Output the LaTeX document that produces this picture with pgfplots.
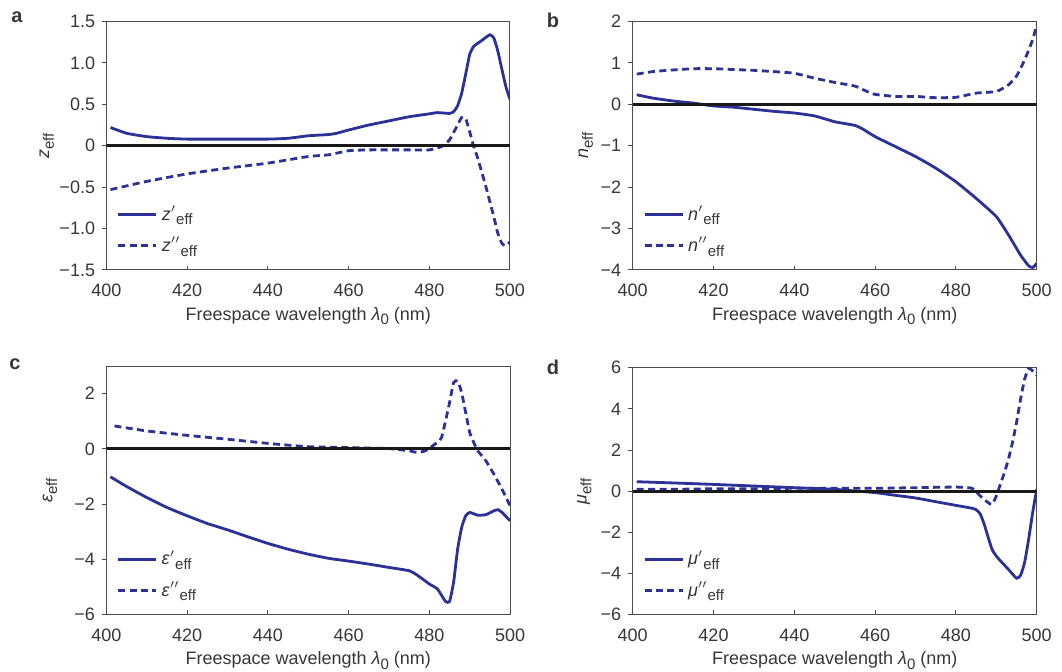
\documentclass[border=0pt]{standalone}
\usepackage{pgfplots}
\pgfplotsset{compat=1.18}
\usepackage{fontspec}
\setmainfont{Liberation Sans}
\definecolor{navy}{RGB}{43,49,150}
\definecolor{txt}{RGB}{55,55,55}
\newcommand{\sub}[1]{\raisebox{-0.5ex}{\fontsize{7.5}{8}\selectfont #1}}
\pgfplotsset{
  panel/.style={
    scale only axis,
    anchor=south west,
    xmin=400, xmax=500,
    xtick={400,420,440,460,480,500},
    xticklabels={400,420,440,460,480,500},
    axis line style={black!70, line width=0.5pt},
    tick style={black!70, line width=0.5pt},
    major tick length=2.2pt,
    xtick pos=bottom, ytick pos=left,
    xtick align=inside, ytick align=outside,
    tick label style={font=\fontsize{9}{10}\selectfont, text=txt},
    xticklabel style={yshift=-3.5pt},
    label style={font=\fontsize{9}{10}\selectfont, text=txt},
    xlabel={Freespace wavelength \textit{λ}\sub{0} (nm)},
    xlabel style={at={(axis description cs:0.5,-0.185)}, anchor=center},
    legend style={draw=none, fill=none, font=\fontsize{9}{10}\selectfont, text=txt,
      row sep=3pt, anchor=south west, at={(axis description cs:0.025,0.045)},
      inner sep=0pt, cells={anchor=west}},
    legend image code/.code={\draw[##1] (0pt,0pt) -- (19pt,0pt);},
    solidl/.style={navy, line width=1.4pt, smooth, tension=0.3},
    dashl/.style={navy, line width=1.4pt, dash pattern=on 3.5pt off 2.2pt, smooth, tension=0.3},
    zerol/.style={black!90, line width=1.5pt, forget plot},
  }
}
\begin{document}
\begin{tikzpicture}
\path[use as bounding box] (0,0) rectangle (531pt,336pt);
% ---------- a ----------
\begin{axis}[panel, at={(53.25pt,201pt)}, width=201.75pt, height=124.25pt,
  ymin=-1.5, ymax=1.5,
  ytick={-1.5,-1,-0.5,0,0.5,1,1.5},
  yticklabels={−1.5,−1.0,−0.5,0,0.5,1.0,1.5},
  ylabel={\textit{z}\sub{eff}},
  ylabel style={at={(axis description cs:-0.148,0.5)}, anchor=center}]
\addplot[solidl] coordinates {
(401,0.22) (405,0.15) (410,0.11) (415,0.09) (420,0.08) (430,0.08) (440,0.08)
(445,0.09) (450,0.12) (455,0.135) (457,0.15) (460,0.19) (465,0.25) (470,0.30)
(475,0.35) (480,0.385) (482,0.40) (485,0.39) (486,0.41) (487,0.48) (488,0.63)
(489,0.86) (490,1.10) (491,1.20) (493,1.27) (495,1.34) (496,1.30) (497,1.14)
(498,0.92) (499,0.71) (500,0.56)};
\addlegendentry{\textit{z}$'$\sub{eff}}
\addplot[dashl] coordinates {
(401,-0.53) (410,-0.43) (420,-0.34) (430,-0.27) (440,-0.21) (450,-0.13) (455,-0.11)
(460,-0.06) (465,-0.05) (470,-0.05) (475,-0.05) (480,-0.05) (483,-0.01) (485,0.07)
(487,0.25) (488,0.34) (489,0.33) (490,0.17) (491,-0.01) (492,-0.15) (494,-0.49)
(496,-0.86) (497,-1.06) (498,-1.18) (499,-1.21) (500,-1.16)};
\addlegendentry{\textit{z}$''$\sub{eff}}
\addplot[zerol] coordinates {(400,0) (500,0)};
\end{axis}
\node[font=\bfseries\fontsize{10}{11}\selectfont, text=txt] at (8.5pt,327.5pt) {a};
% ---------- b ----------
\begin{axis}[panel, at={(316.35pt,201pt)}, width=202pt, height=124.25pt,
  ymin=-4, ymax=2,
  ytick={-4,-3,-2,-1,0,1,2},
  yticklabels={−4,−3,−2,−1,0,1,2},
  ylabel={\textit{n}\sub{eff}},
  ylabel style={at={(axis description cs:-0.116,0.5)}, anchor=center}]
\addplot[solidl] coordinates {
(401,0.23) (405,0.15) (410,0.08) (415,0.03) (420,-0.04) (425,-0.07) (430,-0.12)
(435,-0.17) (440,-0.21) (445,-0.28) (450,-0.42) (455,-0.51) (457,-0.60) (460,-0.78)
(465,-1.02) (470,-1.26) (475,-1.54) (480,-1.87) (485,-2.27) (490,-2.71) (493,-3.15)
(496,-3.64) (498,-3.90) (499,-3.94) (500,-3.84)};
\addlegendentry{\textit{n}$'$\sub{eff}}
\addplot[dashl] coordinates {
(401,0.73) (405,0.79) (410,0.83) (415,0.86) (420,0.86) (425,0.84) (430,0.82)
(435,0.79) (440,0.75) (445,0.63) (450,0.53) (455,0.44) (458,0.31) (460,0.24)
(465,0.19) (470,0.19) (475,0.16) (480,0.17) (485,0.27) (490,0.31) (493,0.47)
(495,0.68) (497,1.07) (499,1.56) (500,1.92)};
\addlegendentry{\textit{n}$''$\sub{eff}}
\addplot[zerol] coordinates {(400,0) (500,0)};
\end{axis}
\node[font=\bfseries\fontsize{10}{11}\selectfont, text=txt] at (276.5pt,326pt) {b};
% ---------- c ----------
\begin{axis}[panel, at={(53.2pt,28.65pt)}, width=201.85pt, height=124.35pt,
  ymin=-6, ymax=3,
  ytick={-6,-4,-2,0,2},
  yticklabels={−6,−4,−2,0,2},
  ylabel={\textit{ε}\sub{eff}},
  ylabel style={at={(axis description cs:-0.14,0.5)}, anchor=center}]
\addplot[solidl] coordinates {
(401,-1.01) (405,-1.36) (410,-1.76) (415,-2.12) (420,-2.42) (425,-2.70) (430,-2.93)
(435,-3.18) (440,-3.42) (445,-3.63) (450,-3.81) (455,-3.96) (460,-4.06) (465,-4.17)
(470,-4.29) (475,-4.41) (477,-4.57) (480,-4.89) (482,-5.07) (484,-5.52) (485,-5.52)
(486,-4.83) (487,-3.63) (488,-2.84) (489,-2.42) (490,-2.30) (492,-2.40) (494,-2.38)
(496,-2.24) (497,-2.20) (498,-2.30) (500,-2.60)};
\addlegendentry{\textit{ε}$'$\sub{eff}}
\addplot[dashl] coordinates {
(402,0.83) (410,0.65) (420,0.49) (430,0.35) (440,0.20) (450,0.08) (460,0.05)
(470,0.01) (475,-0.07) (477,-0.13) (479,-0.07) (481,0.13) (483,0.41) (485,1.67)
(486,2.40) (487,2.46) (488,2.04) (489,1.31) (490,0.59) (491,0.23) (492,-0.07)
(494,-0.43) (496,-0.92) (498,-1.46) (500,-2.06)};
\addlegendentry{\textit{ε}$''$\sub{eff}}
\addplot[zerol] coordinates {(400,0) (500,0)};
\end{axis}
\node[font=\bfseries\fontsize{10}{11}\selectfont, text=txt] at (7.5pt,154pt) {c};
% ---------- d ----------
\begin{axis}[panel, at={(316.35pt,28.65pt)}, width=202pt, height=123.5pt,
  ymin=-6, ymax=6,
  ytick={-6,-4,-2,0,2,4,6},
  yticklabels={−6,−4,−2,0,2,4,6},
  ylabel={\textit{μ}\sub{eff}},
  ylabel style={at={(axis description cs:-0.12,0.5)}, anchor=center}]
\addplot[solidl] coordinates {
(401,0.46) (410,0.40) (420,0.33) (430,0.25) (440,0.17) (450,0.09) (455,0.01)
(460,-0.07) (465,-0.20) (470,-0.33) (475,-0.51) (480,-0.69) (484,-0.83) (485,-0.90)
(486,-1.10) (487,-1.60) (488,-2.25) (489,-2.85) (490,-3.15) (491,-3.38) (493,-3.80)
(495,-4.23) (496,-4.09) (497,-3.47) (498,-2.34) (499,-1.04) (500,0.09)};
\addlegendentry{\textit{μ}$'$\sub{eff}}
\addplot[dashl] coordinates {
(401,0.09) (410,0.09) (420,0.12) (430,0.12) (440,0.14) (450,0.14) (460,0.14)
(470,0.17) (480,0.20) (484,0.14) (486,-0.23) (488,-0.56) (489,-0.64) (490,-0.23)
(491,0.33) (492,0.90) (493,1.55) (494,2.36) (495,3.33) (496,4.46) (497,5.43)
(498,5.97) (499,5.84) (500,5.63)};
\addlegendentry{\textit{μ}$''$\sub{eff}}
\addplot[zerol] coordinates {(400,0) (500,0)};
\end{axis}
\node[font=\bfseries\fontsize{10}{11}\selectfont, text=txt] at (276.5pt,152.5pt) {d};
\end{tikzpicture}
\end{document}
